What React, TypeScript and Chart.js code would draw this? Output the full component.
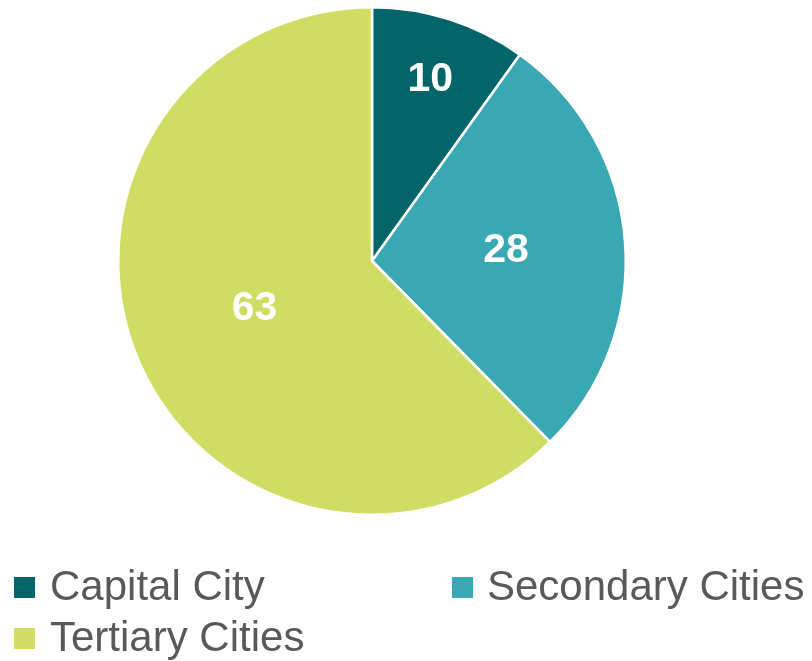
import React, { useEffect, useRef } from "react";
import { Chart, registerables } from "chart.js";

Chart.register(...registerables);

const categories = ["Capital City", "Secondary Cities", "Tertiary Cities"];
const values = [10, 28, 63];
const colors = ["#03656A", "#38A9B4", "#CFDD62"];
const labelRadiusFraction = [0.75, 0.53, 0.5];

const labelPlugin = {
  id: "sliceLabels",
  afterDatasetsDraw(chart: any) {
    const ctx = chart.ctx;
    const meta = chart.getDatasetMeta(0);
    ctx.save();
    ctx.fillStyle = "#ffffff";
    ctx.font = "bold 41px 'Liberation Sans', Arial, sans-serif";
    ctx.textAlign = "center";
    ctx.textBaseline = "middle";
    meta.data.forEach((arc: any, i: number) => {
      const p = arc.getProps(["x", "y", "startAngle", "endAngle", "outerRadius"], true);
      const mid = (p.startAngle + p.endAngle) / 2;
      const r = p.outerRadius * labelRadiusFraction[i];
      ctx.fillText(String(values[i]), p.x + Math.cos(mid) * r, p.y + Math.sin(mid) * r);
    });
    ctx.restore();
  },
};

export default function App() {
  const ref = useRef<HTMLCanvasElement | null>(null);
  useEffect(() => {
    if (!ref.current) return;
    const chart = new Chart(ref.current, {
      type: "pie",
      data: {
        labels: categories,
        datasets: [
          {
            data: values,
            backgroundColor: colors,
            borderColor: "#ffffff",
            borderWidth: 2.5,
          },
        ],
      },
      options: {
        responsive: false,
        animation: false,
        layout: { padding: { left: 117, right: 185, top: 6, bottom: 145 } },
        plugins: { legend: { display: false }, tooltip: { enabled: false } },
      },
      plugins: [labelPlugin],
    });
    return () => chart.destroy();
  }, []);

  const legendPos = [
    { sx: 14, tx: 50, y: 577 },
    { sx: 452, tx: 487, y: 577 },
    { sx: 14, tx: 50, y: 628 },
  ];

  return (
    <div style={{ position: "absolute", left: 0, top: 0, width: 812, height: 661, background: "#fff" }}>
      <canvas ref={ref} width={812} height={661} style={{ position: "absolute", left: 0, top: 0 }} />
      {categories.map((c, i) => (
        <React.Fragment key={c}>
          <div
            style={{
              position: "absolute",
              left: legendPos[i].sx,
              top: legendPos[i].y,
              width: 21,
              height: 21,
              background: colors[i],
            }}
          />
          <div
            style={{
              position: "absolute",
              left: legendPos[i].tx,
              top: legendPos[i].y - 15,
              font: "42px 'Liberation Sans', Arial, sans-serif",
              color: "#595959",
              lineHeight: "48px",
              whiteSpace: "nowrap",
            }}
          >
            {c}
          </div>
        </React.Fragment>
      ))}
    </div>
  );
}
